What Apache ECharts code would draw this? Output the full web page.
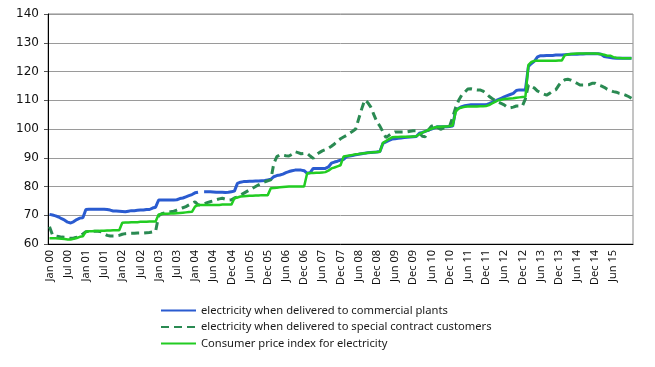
<!DOCTYPE html>
<html><head><meta charset="utf-8">
<script src="https://cdn.jsdelivr.net/npm/echarts@6/dist/echarts.min.js"></script>
<style>html,body{margin:0;padding:0;background:#fff}#c{width:655px;height:367px}</style>
</head><body><div id="c"></div>
<script>
const monthNames = ['Jan','Feb','Mar','Apr','May','Jun','Jul','Aug','Sep','Oct','Nov','Dec'];
const years = ['00','01','02','03','04','05','06','07','08','09','10','11','12','13','14','15'];
const seriesNames = ['electricity when delivered to commercial plants','electricity when delivered to special contract customers','Consumer price index for electricity'];

const commercial = [
70.3,70.1,69.8,69.4,68.8,68.3,67.6,67.3,67.8,68.5,69.0,69.1,
72.0,72.1,72.1,72.1,72.1,72.1,72.1,72.0,71.8,71.5,71.5,71.4,
71.3,71.2,71.4,71.6,71.6,71.7,71.8,71.8,72.0,72.0,72.5,72.8,
75.3,75.3,75.3,75.3,75.3,75.3,75.4,75.8,76.0,76.4,76.8,77.2,
77.8,78.0,null,78.2,78.2,78.2,78.1,78.0,78.0,78.0,77.9,78.0,78.2,
78.4,81.1,81.5,81.7,81.7,81.8,81.8,81.9,81.9,82.0,82.1,82.3,
82.5,83.4,83.8,84.0,84.3,84.8,85.2,85.5,85.7,85.7,85.7,85.5,
84.6,84.8,86.3,86.3,86.3,86.3,86.3,86.8,88.1,88.5,88.8,89.2,
89.4,90.4,90.6,90.8,91.0,91.2,91.4,91.6,91.7,91.8,91.9,92.0,
92.2,95.0,95.5,96.0,96.5,96.6,96.8,96.9,97.0,97.1,97.2,97.3,
97.4,98.5,98.8,99.2,99.6,100.0,100.4,100.8,100.8,100.8,100.8,100.9,
101.0,106.6,107.2,107.8,108.1,108.3,108.4,108.4,108.4,108.4,108.4,108.4,
108.8,109.3,109.7,110.2,110.7,111.2,111.6,112.0,112.4,113.4,113.6,113.6,
113.6,121.8,122.8,123.6,125.1,125.5,125.5,125.6,125.6,125.6,125.7,125.7,
125.7,125.8,125.9,126.0,126.0,126.0,126.1,126.1,126.2,126.2,126.2,126.2,
126.2,126.0,125.2,125.0,124.9,124.7,124.6,124.6,124.6,124.6,124.6,124.6
];
const special = [
66.0,63.1,62.8,62.6,62.4,62.3,62.1,62.0,62.1,62.4,62.8,63.5,
64.3,64.4,64.4,64.4,64.4,64.3,63.6,63.0,62.8,62.8,62.8,63.0,
63.4,63.6,63.7,63.7,63.7,63.8,63.8,63.8,63.9,64.0,64.2,64.4,
69.8,70.5,70.8,71.0,71.2,71.4,71.8,72.2,72.6,73.0,73.6,74.2,
74.7,73.6,73.6,74.0,74.4,74.7,75.0,75.4,75.7,75.9,75.6,75.3,75.4,
76.0,76.4,77.0,77.6,78.2,78.8,79.4,80.0,80.6,81.1,81.6,82.0,
82.3,88.0,90.4,91.0,90.9,90.7,90.6,91.2,92.1,91.8,91.4,91.5,
91.5,90.6,89.8,91.0,91.8,92.4,92.8,93.3,94.0,94.8,95.8,96.6,
97.2,97.8,98.5,99.2,100.0,103.5,107.0,110.1,109.2,107.6,105.0,102.5,
101.0,99.0,97.0,97.8,98.5,99.0,99.0,99.0,99.0,99.0,99.2,99.4,
99.4,98.6,97.5,97.3,99.7,101.0,101.4,100.5,99.9,100.3,100.8,101.0,
104.0,107.5,110.0,111.8,112.8,113.9,114.0,113.8,113.6,113.6,113.2,112.4,
111.4,110.6,110.0,109.4,108.9,108.4,107.6,107.4,107.6,108.0,108.0,108.0,
110.5,115.3,114.8,114.2,113.2,112.6,112.2,111.8,112.4,113.2,113.6,115.2,
116.5,117.1,117.3,117.0,116.5,115.9,115.3,115.3,115.3,115.4,115.9,115.9,
115.3,115.0,114.5,113.8,113.4,113.0,112.8,112.4,112.2,111.8,111.3,110.7
];
const cpi = [
62.0,62.0,62.0,61.9,61.8,61.7,61.6,61.6,61.8,62.1,62.5,62.7,
64.3,64.4,64.4,64.5,64.5,64.6,64.6,64.7,64.7,64.8,64.8,64.8,
67.4,67.5,67.5,67.6,67.6,67.6,67.7,67.7,67.7,67.8,67.8,67.8,
70.3,70.4,70.5,70.5,70.6,70.6,70.7,70.8,70.9,71.0,71.1,71.2,
73.0,73.6,73.6,73.6,73.6,73.6,73.6,73.6,73.6,73.7,73.7,73.7,73.7,
75.9,76.2,76.5,76.6,76.7,76.8,76.8,76.9,76.9,77.0,77.0,77.0,
79.4,79.5,79.6,79.7,79.8,79.9,80.0,80.0,80.0,80.0,80.0,80.0,
84.6,84.7,84.7,84.8,84.8,84.9,85.0,85.5,86.3,86.6,87.0,87.4,
90.4,90.6,90.8,91.0,91.2,91.3,91.5,91.6,91.7,91.8,91.9,92.0,
92.1,95.2,95.8,96.5,97.1,97.2,97.2,97.3,97.3,97.3,97.3,97.4,
97.5,98.2,98.7,99.2,99.7,100.1,100.5,100.8,100.8,100.9,100.9,101.0,
101.2,106.0,107.2,107.5,107.7,107.8,107.8,107.8,107.8,107.9,107.9,108.0,
108.3,108.9,109.4,110.0,110.2,110.4,110.5,110.6,110.7,110.9,111.0,111.1,
111.2,122.3,123.3,123.7,123.7,123.7,123.7,123.7,123.7,123.7,123.7,123.8,
123.8,125.7,125.9,126.1,126.2,126.3,126.3,126.3,126.3,126.3,126.3,126.3,
126.2,126.0,125.8,125.5,125.5,125.0,124.8,124.7,124.6,124.6,124.6,124.6
];

const categories = [];
years.forEach(y => monthNames.forEach(m => {
  categories.push(m + ' ' + y);
  if (m === 'Feb' && y === '04') categories.push('');
}));
const lastLabel = 'Jun 15';
const lastLabelIndex = categories.indexOf(lastLabel);

const chart = echarts.init(document.getElementById('c'), null, {renderer: 'canvas'});
chart.setOption({
  animation: false,
  backgroundColor: '#fff',
  grid: {left: 48, right: 22, top: 14, bottom: 123, show: true, borderColor: '#8a8a8a', borderWidth: 1},
  legend: {
    orient: 'vertical', left: 155, top: 300, itemWidth: 35, itemHeight: 10, itemGap: 5.5,
    itemStyle: {opacity: 0},
    textStyle: {fontFamily: 'Noto Sans', fontSize: 11.2, color: '#1a1a1a'},
    data: seriesNames
  },
  xAxis: {
    type: 'category', data: categories, boundaryGap: true,
    axisLine: {lineStyle: {color: '#000', width: 1}},
    axisTick: {interval: 0, length: 4, lineStyle: {color: '#777'}},
    axisLabel: {interval: (i) => i % 6 === 0 && i <= lastLabelIndex, rotate: 90, margin: 6,
                fontFamily: 'Noto Sans', fontSize: 11, color: '#111'},
    splitLine: {show: false}
  },
  yAxis: {
    type: 'value', min: 60, max: 140, interval: 10,
    axisLine: {show: true, lineStyle: {color: '#000', width: 1}},
    axisTick: {show: true, length: 4, lineStyle: {color: '#555'}},
    axisLabel: {margin: 9, fontFamily: 'DejaVu Sans', fontSize: 12, color: '#111'},
    splitLine: {lineStyle: {color: '#9a9a9a', width: 1}}
  },
  series: [
    {name: seriesNames[0], type: 'line', data: commercial, symbol: 'none', connectNulls: false,
     lineStyle: {color: '#2a5bd0', width: 3}, itemStyle: {color: '#2a5bd0'}},
    {name: seriesNames[1], type: 'line', data: special, symbol: 'none',
     lineStyle: {color: '#2a8a52', width: 3, type: [8, 5]}, itemStyle: {color: '#2a8a52'}},
    {name: seriesNames[2], type: 'line', data: cpi, symbol: 'none',
     lineStyle: {color: '#22cc22', width: 2.5}, itemStyle: {color: '#22cc22'}}
  ]
});
</script></body></html>
